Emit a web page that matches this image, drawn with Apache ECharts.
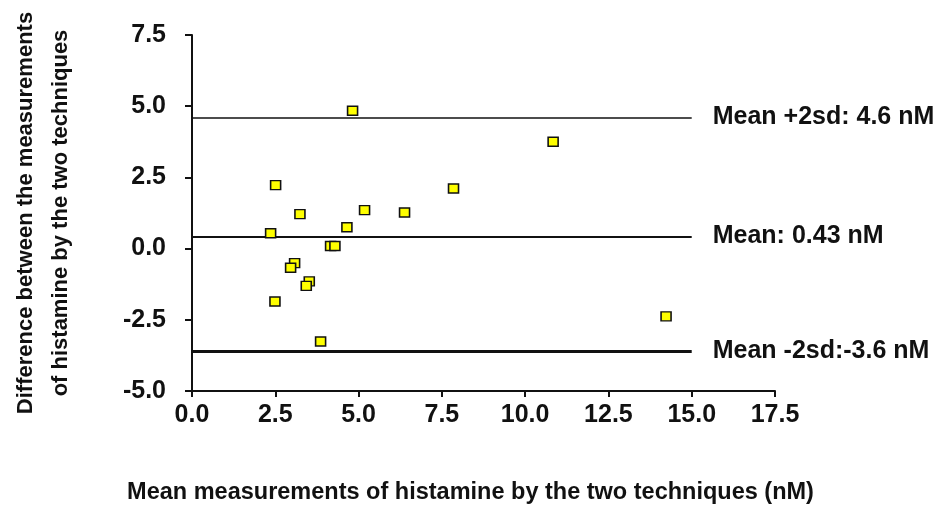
<!DOCTYPE html>
<html>
<head>
<meta charset="utf-8">
<script src="https://cdn.jsdelivr.net/npm/echarts@6/dist/echarts.min.js"></script>
<style>html,body{margin:0;padding:0;background:#fff;}#c{width:939px;height:510px;}</style>
</head>
<body>
<div id="c"></div>
<script>
// Bland-Altman data: mean of two techniques (x) vs difference (y)
var meanValues = [4.82, 2.51, 3.24, 5.18, 2.36, 4.65, 4.16, 4.29, 3.08, 2.96, 3.52, 3.43, 2.49, 3.86, 10.84, 7.85, 6.38, 14.23];
var diffValues = [4.84, 2.23, 1.21, 1.35, 0.54, 0.75, 0.09, 0.09, -0.51, -0.67, -1.15, -1.31, -1.86, -3.26, 3.75, 2.11, 1.27, -2.38];
var refLevels = [4.6, 0.43, -3.6];
var refLabels = ['Mean +2sd: 4.6 nM', 'Mean: 0.43 nM', 'Mean -2sd:-3.6 nM'];
var refLineEnd = 15;
var xTicks = [0, 17.5, 2.5];   // min, max, interval
var yTicks = [-5, 7.5, 2.5];

var points = meanValues.map(function (m, i) { return [m, diffValues[i]]; });
var widths = [1.5, 2.2, 3];
var markData = refLevels.map(function (v, i) {
  return [
    { coord: [0, v], lineStyle: { width: widths[i] } },
    { coord: [refLineEnd, v], label: { formatter: refLabels[i] } }
  ];
});

var font = 'Liberation Sans, Arial, sans-serif';
var chart = echarts.init(document.getElementById('c'));
chart.setOption({
  animation: false,
  grid: { left: 192, right: 164, top: 35, bottom: 117 },
  xAxis: {
    type: 'value', min: xTicks[0], max: xTicks[1], interval: xTicks[2],
    name: 'Mean measurements of histamine by the two techniques (nM)',
    nameLocation: 'middle', nameGap: 90,
    nameTextStyle: { fontFamily: font, fontWeight: 'bold', fontSize: 23.5, color: '#111', padding: [0, 26, 0, 0] },
    axisLine: { onZero: false, lineStyle: { color: '#111', width: 2 } },
    axisTick: { show: true, length: 6, lineStyle: { color: '#111', width: 2 } },
    axisLabel: { fontFamily: font, fontWeight: 'bold', fontSize: 25, color: '#111', margin: 12,
      formatter: function (v) { return v.toFixed(1); } },
    splitLine: { show: false }
  },
  yAxis: {
    type: 'value', min: yTicks[0], max: yTicks[1], interval: yTicks[2],
    name: 'Difference between the measurements\nof histamine by the two techniques',
    nameLocation: 'middle', nameGap: 114,
    nameTextStyle: { fontFamily: font, fontWeight: 'bold', fontSize: 22, color: '#111', lineHeight: 35 },
    axisLine: { show: true, lineStyle: { color: '#111', width: 2 } },
    axisTick: { show: true, length: 7, lineStyle: { color: '#111', width: 2 } },
    axisLabel: { fontFamily: font, fontWeight: 'bold', fontSize: 25, color: '#111', margin: 26,
      formatter: function (v) { return v.toFixed(1); } },
    splitLine: { show: false }
  },
  series: [{
    type: 'scatter',
    data: points,
    symbol: 'rect',
    symbolSize: [10, 9],
    itemStyle: { color: '#ffff00', borderColor: '#111', borderWidth: 1.5, opacity: 1 },
    markLine: {
      silent: true,
      symbol: ['none', 'none'],
      lineStyle: { color: '#111', type: 'solid', width: 1.5 },
      label: { show: true, position: 'end', distance: 21, fontFamily: font, fontWeight: 'bold', fontSize: 25, color: '#111' },
      data: markData
    },
    z: 5
  }]
});
</script>
</body>
</html>
